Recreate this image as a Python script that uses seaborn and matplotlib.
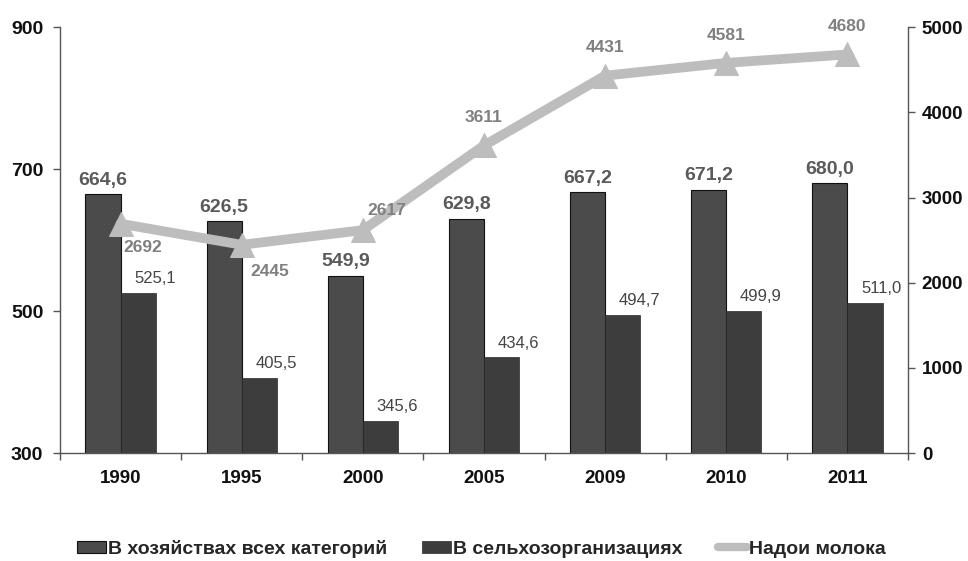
import matplotlib
matplotlib.use("Agg")
import matplotlib.pyplot as plt
from matplotlib.patches import Patch
from matplotlib.lines import Line2D
import numpy as np
import pandas as pd
import seaborn as sns

years = ["1990", "1995", "2000", "2005", "2009", "2010", "2011"]
all_farms = [664.6, 626.5, 549.9, 629.8, 667.2, 671.2, 680.0]
agri_orgs = [525.1, 405.5, 345.6, 434.6, 494.7, 499.9, 511.0]
milk_yield = [2692, 2445, 2617, 3611, 4431, 4581, 4680]

series_names = ["В хозяйствах всех категорий", "В сельхозорганизациях", "Надои молока"]

sns.set_theme(style="white")
plt.rcParams["font.family"] = ["Liberation Sans", "DejaVu Sans"]

bar_df = pd.DataFrame({
    "year": years * 2,
    "value": all_farms + agri_orgs,
    "series": [series_names[0]] * len(years) + [series_names[1]] * len(years),
})
line_df = pd.DataFrame({"pos": np.arange(len(years)), "value": milk_yield})

c_bar1 = "#4b4b4b"
c_bar2 = "#3d3d3d"
c_line = "#bdbdbd"

fig = plt.figure(figsize=(9.68, 5.61), dpi=100)
ax = fig.add_axes([0.062, 0.1925, 0.876, 0.759])

sns.barplot(data=bar_df, x="year", y="value", hue="series", order=years,
            hue_order=series_names[:2], palette=[c_bar1, c_bar2],
            width=0.58, saturation=1, ax=ax, legend=False)
for patch in ax.containers[0]:
    patch.set_edgecolor("#111111")
    patch.set_linewidth(0.8)
for patch in ax.containers[1]:
    patch.set_edgecolor("#2a2a2a")
    patch.set_linewidth(0.5)

ax.set_ylim(300, 900)
ax.set_xlim(-0.5, len(years) - 0.5)
ax.set_yticks([300, 500, 700, 900])
ax.set_xlabel("")
ax.set_ylabel("")

# Value labels for bars
for patch, v in zip(ax.containers[0], all_farms):
    x = patch.get_x() + patch.get_width() / 2
    ax.annotate(f"{v:.1f}".replace(".", ","), (x, v), xytext=(0, 4),
                textcoords="offset points", ha="center", va="bottom",
                fontsize=14, fontweight="bold", color="#5a5a5a")
for patch, v in zip(ax.containers[1], agri_orgs):
    x = patch.get_x() + patch.get_width() / 2
    ax.annotate(f"{v:.1f}".replace(".", ","), (x, v), xytext=(12, 5),
                textcoords="offset points", ha="center", va="bottom",
                fontsize=12, color="#444444")

ax2 = ax.twinx()
sns.lineplot(data=line_df, x="pos", y="value", ax=ax2, color=c_line,
             linewidth=7, marker="^", markersize=17, markeredgecolor=c_line,
             legend=False)
ax2.set_ylim(0, 5000)
ax2.set_yticks([0, 1000, 2000, 3000, 4000, 5000])
ax2.set_ylabel("")
ax2.set_xlabel("")
ax2.set_xlim(-0.5, len(years) - 0.5)

line_offsets = [(16, -17), (20, -19), (17, 14), (0, 20), (0, 20), (0, 20), (0, 20)]
for i, (v, off) in enumerate(zip(milk_yield, line_offsets)):
    ax2.annotate(str(v), (i, v), xytext=off, textcoords="offset points",
                 ha="center", va="center", fontsize=12.5, fontweight="bold",
                 color="#808080")

# Axes styling
for a in (ax, ax2):
    for s in a.spines.values():
        s.set_visible(False)
ax.spines["left"].set_visible(True)
ax.spines["bottom"].set_visible(True)
ax2.spines["right"].set_visible(True)
for s in (ax.spines["left"], ax.spines["bottom"], ax2.spines["right"]):
    s.set_color("#555555")
    s.set_linewidth(1.0)

ax.set_xticks(range(len(years)))
ax.set_xticklabels(years)
ax.set_xticks(np.arange(-0.5, len(years)), minor=True)
ax.tick_params(axis="x", which="major", length=0, pad=12, labelsize=13.5)
ax.tick_params(axis="x", which="minor", length=5, width=1, color="#555555",
               direction="out", bottom=True)
ax.tick_params(axis="y", length=5, width=1, color="#555555", direction="out",
               left=True, pad=7, labelsize=14)
ax2.tick_params(axis="y", length=5, width=1, color="#555555", direction="out",
                right=True, pad=5, labelsize=13.5)
for lbl in ax.get_xticklabels() + ax.get_yticklabels() + ax2.get_yticklabels():
    lbl.set_fontweight("bold")
    lbl.set_color("#111111")

ax.set_zorder(ax2.get_zorder() - 1)
ax2.patch.set_visible(False)
ax.patch.set_visible(True)
ax.patch.set_facecolor("white")

handles = [
    Patch(facecolor=c_bar1, edgecolor="#111111", linewidth=0.8),
    Patch(facecolor=c_bar2, edgecolor="#2a2a2a", linewidth=0.5),
    Line2D([0], [0], color=c_line, linewidth=6),
]
fig.legend(handles, series_names, loc="center", bbox_to_anchor=(0.497, 0.022),
           ncol=3, frameon=False, handlelength=1.5, handleheight=0.6,
           handletextpad=0.1, columnspacing=1.8,
           prop={"weight": "bold", "size": 14})

fig.savefig("out.png", dpi=100, facecolor="white")
